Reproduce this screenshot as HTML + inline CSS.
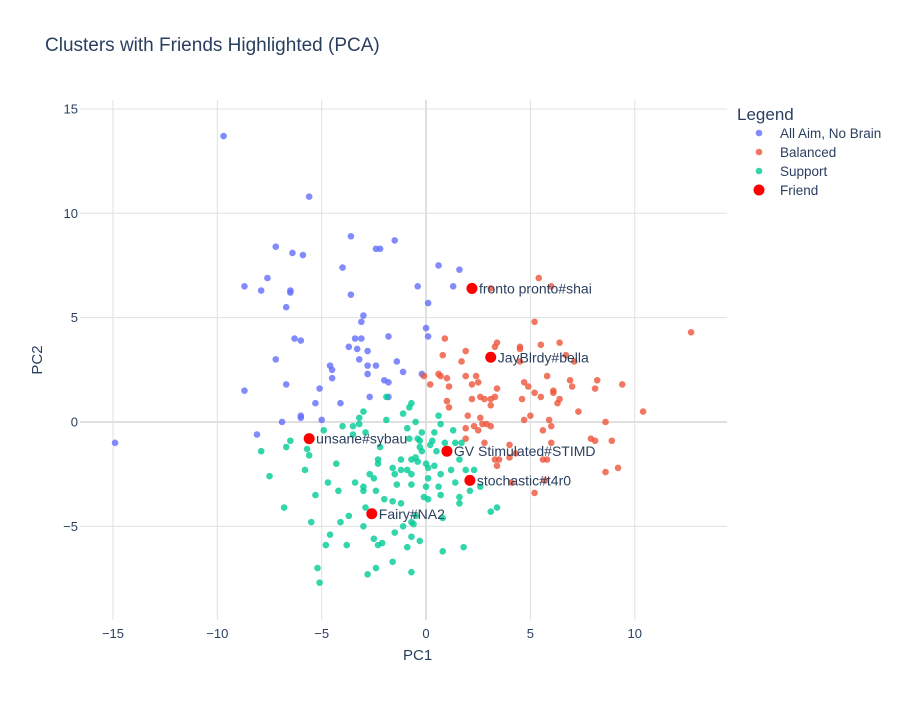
<!DOCTYPE html>
<html><head><meta charset="utf-8"><style>
body{margin:0;background:#fff;font-family:"Liberation Sans",Arial,sans-serif;}
svg text{font-family:"Liberation Sans",Arial,sans-serif;fill:#2a3f5f;}
</style></head><body>
<svg id="chart" width="900" height="700">
<rect width="900" height="700" fill="#fff"/>
<text x="45" y="51" font-size="19">Clusters with Friends Highlighted (PCA)</text>
<g id="grid"></g><g id="ticks"></g><g id="marks"></g>
<text x="403" y="660" font-size="15">PC1</text>
<text x="42" y="360" font-size="15" text-anchor="middle" transform="rotate(-90 42 360)">PC2</text>
<g id="legend">
<text x="737" y="120" font-size="17">Legend</text>
</g>
</svg>
<script>
const xTicks=[-15,-10,-5,0,5,10];
const yTicks=[-5,0,5,10,15];
const seriesNames=["All Aim, No Brain","Balanced","Support"];
const seriesColors=["#636efa","#EF553B","#00cc96"];
const blueX=[-9.7,-5.6,-3.6,-7.2,-6.4,-5.9,-2.4,-2.2,-1.5,-4.0,-7.6,-8.7,-7.9,-6.5,-6.5,-3.6,-0.4,0.1,0.6,-6.7,-3.0,-3.1,0.0,-6.3,-6.0,-3.4,-3.1,-1.8,0.1,-3.7,-3.3,-2.8,-7.2,-3.2,-1.4,-4.6,-4.5,-2.8,-2.4,-2.8,-1.1,-4.5,-0.2,-2.0,-1.8,-6.7,-5.1,-8.7,-2.7,-1.8,-5.3,-4.1,-6.0,-5.0,-14.9,-8.1,-6.9,-6.0,1.6,1.3];
const blueY=[13.7,10.8,8.9,8.4,8.1,8.0,8.3,8.3,8.7,7.4,6.9,6.5,6.3,6.3,6.2,6.1,6.5,5.7,7.5,5.5,5.1,4.8,4.5,4.0,3.9,4.0,4.0,4.1,4.1,3.6,3.5,3.4,3.0,3.0,2.9,2.7,2.5,2.7,2.7,2.3,2.4,2.1,2.3,2.0,1.9,1.8,1.6,1.5,1.2,1.2,0.9,0.9,0.2,0.1,-1.0,-0.6,0.0,0.3,7.3,6.5];
const orangeX=[5.4,6.0,3.1,5.2,12.7,0.9,3.4,3.3,4.5,4.5,5.5,6.4,0.8,1.9,1.7,4.5,6.7,7.1,0.6,-0.1,0.7,1.0,1.9,2.4,0.2,1.1,2.2,2.5,3.4,4.7,4.9,5.8,6.9,7.0,8.2,8.1,9.4,5.2,6.1,6.1,5.5,6.4,6.3,2.6,2.8,3.1,3.3,2.2,4.6,1.0,1.1,3.1,5.0,4.7,5.9,7.3,8.6,10.4,2.0,2.6,2.7,2.9,3.1,2.3,2.5,1.9,5.6,6.0,1.9,2.8,4.0,6.0,7.9,8.1,8.9,3.3,3.5,3.4,4.0,4.3,5.6,5.8,8.6,9.2,5.7,4.1,5.2];
const orangeY=[6.9,6.5,6.4,4.8,4.3,4.0,3.8,3.6,3.5,3.6,3.7,3.8,3.2,3.4,2.9,2.9,3.2,2.9,2.3,2.2,2.2,2.1,2.2,2.2,1.8,1.7,1.8,1.9,1.6,1.9,1.7,2.2,2.0,1.7,2.0,1.6,1.8,1.4,1.4,1.5,1.2,1.1,0.9,1.2,1.1,1.1,1.2,1.1,1.1,1.0,0.7,0.8,0.3,0.1,0.1,0.5,0.0,0.5,0.3,0.2,-0.1,-0.1,-0.2,-0.2,-0.4,-0.3,-0.4,-0.2,-0.8,-1.0,-1.1,-1.0,-0.8,-0.9,-0.9,-1.8,-1.8,-2.1,-1.7,-1.5,-1.8,-1.8,-2.4,-2.2,-2.8,-2.9,-3.4];
const greenX=[-1.9,-0.7,-0.8,-1.1,-3.2,-1.9,-3.5,-3.2,-4.0,-4.9,-2.9,-3.5,-0.5,-0.9,-0.2,0.6,0.7,0.4,-0.4,-0.8,-0.3,0.3,0.2,-0.3,-0.2,0.5,0.9,1.4,1.7,-2.2,-7.9,-6.7,-5.7,-5.6,-2.3,-2.3,-1.2,-0.7,-0.5,-0.4,0.0,0.4,-4.3,-5.8,-1.6,-1.5,-1.2,-0.9,-0.7,0.1,1.2,1.6,1.9,2.3,0.7,-7.5,-2.7,-2.5,0.1,-4.7,-3.4,-3.0,-1.4,-0.7,0.0,0.6,1.4,2.6,-4.2,-3.0,-2.4,-5.3,-2.0,-1.6,-1.2,-0.1,0.1,0.7,1.6,1.6,-6.8,-2.9,-0.5,0.8,3.1,3.4,-3.7,-4.1,-5.5,-3.0,-1.1,-0.7,-0.6,-4.6,-1.5,-0.7,-2.5,-0.3,-4.8,-3.8,-2.3,-2.1,-0.9,0.8,1.8,-1.6,-5.2,-2.4,-2.8,-0.7,-5.1,2.1,1.3,-3.0,-6.5];
const greenY=[1.2,0.9,0.7,0.4,0.2,0.1,-0.2,-0.1,-0.2,-0.4,-0.5,-0.6,0.0,-0.3,-0.5,0.3,-0.1,-0.5,-0.8,-0.8,-0.9,-0.9,-1.1,-1.2,-1.4,-1.4,-1.0,-1.0,-1.0,-1.2,-1.4,-1.2,-1.3,-1.6,-1.8,-2.0,-1.8,-1.8,-1.7,-1.9,-2.0,-2.1,-2.0,-2.3,-2.2,-2.5,-2.3,-2.3,-2.5,-2.2,-2.3,-1.8,-2.3,-2.3,-2.5,-2.6,-2.5,-2.7,-2.7,-2.9,-2.9,-3.1,-3.0,-3.0,-3.1,-3.1,-2.9,-3.1,-3.3,-3.3,-3.3,-3.5,-3.7,-3.8,-3.9,-3.6,-3.7,-3.5,-3.6,-3.9,-4.1,-4.1,-4.5,-4.6,-4.3,-4.1,-4.5,-4.8,-4.8,-5.0,-5.0,-4.8,-4.9,-5.4,-5.3,-5.5,-5.6,-5.7,-5.9,-5.9,-5.9,-5.8,-6.0,-6.2,-6.0,-6.7,-7.0,-7.0,-7.3,-7.2,-7.7,-3.3,-0.4,0.5,-0.9];
const friendNames=["fronto pronto#shai","JayBlrdy#bella","GV Stimulated#STIMD","stochastic#t4r0","Fairy#NA2","unsane#sybau"];
const friendX=[2.2,3.1,1.0,2.1,-2.6,-5.6];
const friendY=[6.4,3.1,-1.4,-2.8,-4.4,-0.8];

const L=80,R=727,T=100,B=620;
const xMin=-16.58,xMax=14.42,yMin=-9.49,yMax=15.43;
const sx=v=>L+(v-xMin)/(xMax-xMin)*(R-L);
const sy=v=>B-(v-yMin)/(yMax-yMin)*(B-T);
const NS="http://www.w3.org/2000/svg";
function mk(tag,attrs,parent){const e=document.createElementNS(NS,tag);for(const k in attrs)e.setAttribute(k,attrs[k]);parent.appendChild(e);return e;}
const grid=document.getElementById('grid'),ticks=document.getElementById('ticks'),marks=document.getElementById('marks'),legend=document.getElementById('legend');
xTicks.forEach(t=>{
  const l=mk('line',{x1:sx(t),x2:sx(t),y1:T,y2:B,stroke:'#e0e0e0','stroke-width':t===0?2:1},grid);
  
  
  const tx=mk('text',{x:sx(t),y:B+18,'font-size':13,'text-anchor':'middle'},ticks);
  tx.textContent=t<0?'−'+Math.abs(t):t;
  
  
});
yTicks.forEach(t=>{
  const l=mk('line',{x1:L,x2:R,y1:sy(t),y2:sy(t),stroke:'#e0e0e0','stroke-width':t===0?2:1},grid);
  
  
  const tx=mk('text',{x:L-2,y:sy(t)+4.5,'font-size':13,'text-anchor':'end'},ticks);
  tx.textContent=t<0?'−'+Math.abs(t):t;
  
  
});
const allX=[blueX,orangeX,greenX],allY=[blueY,orangeY,greenY];
allX.forEach((xs,s)=>{
  xs.forEach((x,i)=>{
    const c=mk('circle',{cx:sx(x),cy:sy(allY[s][i]),r:3.3,fill:seriesColors[s],'fill-opacity':0.8},marks);
    
    
  });
});
friendX.forEach((x,i)=>{
  const c=mk('circle',{cx:sx(x),cy:sy(friendY[i]),r:5.5,fill:'#ff0000'},marks);
  
  
  const t=mk('text',{x:sx(x)+7,y:sy(friendY[i])+5,'font-size':14},marks);
  t.textContent=friendNames[i];
  
  
});
const legNames=seriesNames.concat(['Friend']),legColors=seriesColors.concat(['#ff0000']);
legNames.forEach((n,i)=>{
  const y=133+i*19;
  const g=mk('g',{},legend);
  
  
  mk('circle',{cx:759,cy:y,r:i===3?5.5:3.3,fill:legColors[i],'fill-opacity':i===3?1:0.8},g);
  const t=mk('text',{x:780,y:y+5,'font-size':13.5},g);
  t.textContent=n;
});
</script>
</body></html>
